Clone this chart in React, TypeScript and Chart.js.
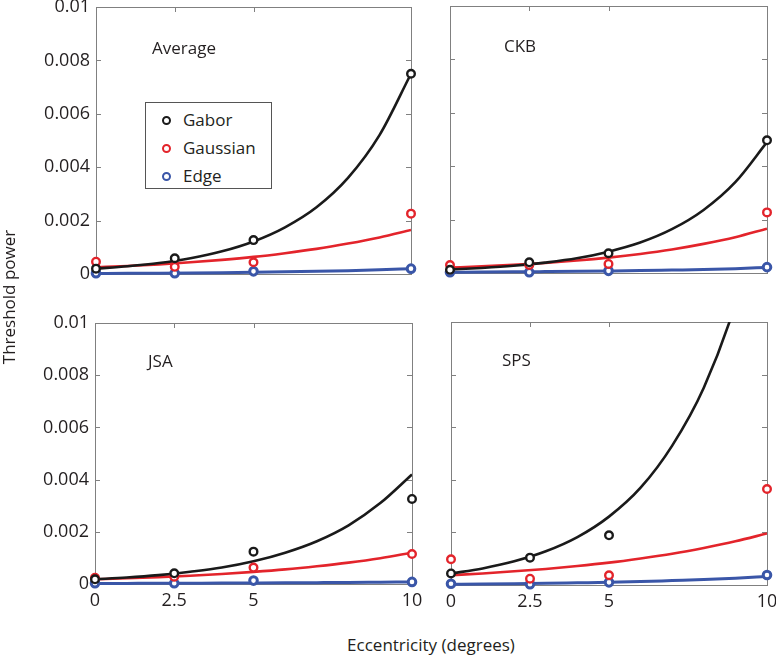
import React, { useEffect, useRef } from "react";
import { Chart, registerables } from "chart.js";
Chart.register(...registerables);

// ---------- data ----------
const eccentricity = [0, 2.5, 5, 10];
const fitEccentricity = [0, 1, 2, 3, 4, 5, 6, 7, 8, 9, 10];
const xTickValues = [0, 2.5, 5, 10];
const yTickValues = [0, 0.002, 0.004, 0.006, 0.008, 0.01];
const seriesNames = ["Gabor", "Gaussian", "Edge"];

// Average
const avgGabor = [0.0002, 0.00059, 0.00127, 0.0075];
const avgGaussian = [0.00046, 0.00027, 0.00044, 0.00226];
const avgEdge = [0.00003, 0.00003, 0.0001, 0.0002];
const avgGaborFit = [0.0002, 0.00029, 0.00041, 0.00059, 0.00085, 0.00122, 0.00175, 0.0025, 0.0036, 0.0052, 0.0075];
const avgGaussianFit = [0.00025, 0.0003, 0.00036, 0.00044, 0.00053, 0.00064, 0.00078, 0.00094, 0.00114, 0.00137, 0.00165];
const avgEdgeFit = [0.00002, 0.000025, 0.000032, 0.00004, 0.00005, 0.000063, 0.00008, 0.0001, 0.000126, 0.00016, 0.0002];

// CKB
const ckbGabor = [0.00012, 0.0004, 0.00074, 0.00497];
const ckbGaussian = [0.0003, 0.0003, 0.00034, 0.00227];
const ckbEdge = [0.00003, 0.00003, 0.00008, 0.00022];
const ckbGaborFit = [0.00013, 0.00019, 0.00027, 0.00039, 0.00055, 0.0008, 0.00114, 0.00164, 0.00236, 0.0034, 0.0049];
const ckbGaussianFit = [0.0002, 0.000247, 0.000305, 0.000377, 0.000466, 0.000576, 0.000712, 0.00088, 0.00109, 0.00134, 0.00166];
const ckbEdgeFit = [0.00003, 0.000036, 0.000043, 0.000052, 0.000062, 0.000075, 0.00009, 0.00011, 0.00013, 0.00016, 0.00021];

// JSA
const jsaGabor = [0.00018, 0.00041, 0.00124, 0.00326];
const jsaGaussian = [0.00024, 0.00028, 0.00063, 0.00115];
const jsaEdge = [0.00003, 0.00003, 0.00013, 0.00008];
const jsaGaborFit = [0.00018, 0.000247, 0.00034, 0.00047, 0.00063, 0.00087, 0.0012, 0.00164, 0.00225, 0.0031, 0.0042];
const jsaGaussianFit = [0.00018, 0.000218, 0.000263, 0.000318, 0.000385, 0.000465, 0.00056, 0.00068, 0.00082, 0.00099, 0.0012];
const jsaEdgeFit = [0.00002, 0.000023, 0.000026, 0.00003, 0.000034, 0.000039, 0.000045, 0.000052, 0.00006, 0.00007, 0.00008];

// SPS
const spsGabor = [0.00044, 0.00104, 0.00189, null];
const spsGaussian = [0.00098, 0.00024, 0.00037, 0.00365];
const spsEdge = [0.00005, 0.00003, 0.0001, 0.00038];
const spsGaborFit = [0.00044, 0.00063, 0.0009, 0.00128, 0.00182, 0.0026, 0.0037, 0.0053, 0.0075, 0.0107, 0.0153];
const spsGaussianFit = [0.00037, 0.00044, 0.00052, 0.00061, 0.00072, 0.00085, 0.00101, 0.00119, 0.00141, 0.00166, 0.00196];
const spsEdgeFit = [0.00003, 0.000039, 0.00005, 0.000064, 0.000082, 0.0001, 0.00013, 0.00017, 0.00021, 0.00026, 0.00032];

// ---------- style ----------
const COLORS = ["#1a1a1a", "#e3242b", "#3a56a8"];
const FONT = "'Open Sans', 'Noto Sans', sans-serif";
const TEXT = "#231f20";

const PAD_L = 100, PAD_T = 20, PAD_R = 20, PAD_B = 45;

const boxTicksPlugin = {
  id: "boxTicks",
  beforeDatasetsDraw(chart: any) {
    const { ctx, chartArea: a, scales } = chart;
    ctx.save();
    ctx.strokeStyle = "#808080";
    ctx.lineWidth = 1;
    ctx.strokeRect(Math.round(a.left) + 0.5, Math.round(a.top) + 0.5, Math.round(a.right - a.left), Math.round(a.bottom - a.top));
    const tl = 5;
    ctx.beginPath();
    scales.x.ticks.forEach((t: any) => {
      const px = Math.round(scales.x.getPixelForValue(t.value)) + 0.5;
      ctx.moveTo(px, a.bottom); ctx.lineTo(px, a.bottom - tl);
      ctx.moveTo(px, a.top); ctx.lineTo(px, a.top + tl);
    });
    scales.y.ticks.forEach((t: any) => {
      const py = Math.round(scales.y.getPixelForValue(t.value)) + 0.5;
      ctx.moveTo(a.left, py); ctx.lineTo(a.left + tl, py);
      ctx.moveTo(a.right, py); ctx.lineTo(a.right - tl, py);
    });
    ctx.stroke();
    ctx.restore();
  },
};

type PanelProps = {
  left: number; top: number; right: number; bottom: number;
  showY: boolean; showX: boolean;
  points: (number | null)[][];
  fits: number[][];
};

function Panel({ left, top, right, bottom, showY, showX, points, fits }: PanelProps) {
  const ref = useRef<HTMLCanvasElement>(null);
  const w = right - left, h = bottom - top;
  const cw = PAD_L + w + PAD_R, ch = PAD_T + h + PAD_B;
  useEffect(() => {
    const datasets: any[] = [];
    points.forEach((arr, i) => {
      datasets.push({
        label: seriesNames[i],
        data: eccentricity.map((x, k) => ({ x, y: arr[k] })),
        showLine: false,
        pointRadius: 3.8,
        pointBorderWidth: i === 2 ? 3 : 2.4,
        pointBorderColor: COLORS[i],
        pointBackgroundColor: "#ffffff",
        clip: false,
      });
    });
    fits.forEach((arr, i) => {
      datasets.push({
        label: seriesNames[i] + " fit",
        data: fitEccentricity.map((x, k) => ({ x, y: arr[k] })),
        showLine: true,
        borderColor: COLORS[i],
        borderWidth: i === 2 ? 3 : 2.6,
        pointRadius: 0,
        cubicInterpolationMode: "monotone",
        clip: { left: 0, top: 0, right: 0, bottom: 4 },
      });
    });
    const chart = new Chart(ref.current!, {
      type: "scatter",
      data: { datasets },
      plugins: [boxTicksPlugin],
      options: {
        animation: false,
        responsive: false,
        devicePixelRatio: 1,
        layout: { padding: { left: 0, top: PAD_T, right: PAD_R, bottom: 0 } },
        plugins: { legend: { display: false }, tooltip: { enabled: false } },
        scales: {
          x: {
            type: "linear",
            min: 0, max: 10,
            grid: { display: false, drawTicks: false },
            border: { display: false },
            afterBuildTicks: (s: any) => { s.ticks = xTickValues.map((v) => ({ value: v })); },
            afterFit: (s: any) => { s.height = PAD_B; s.paddingLeft = 0; s.paddingRight = 0; },
            ticks: {
              display: showX,
              padding: 6,
              maxRotation: 0,
              color: TEXT,
              font: { family: FONT, size: 18 },
              callback: (v: any) => String(v),
            },
          },
          y: {
            type: "linear",
            min: 0, max: 0.01,
            grid: { display: false, drawTicks: false },
            border: { display: false },
            afterBuildTicks: (s: any) => { s.ticks = yTickValues.map((v) => ({ value: v })); },
            afterFit: (s: any) => { s.width = PAD_L; s.paddingTop = 0; s.paddingBottom = 0; },
            ticks: {
              display: showY,
              padding: 6,
              color: TEXT,
              font: { family: FONT, size: 18 },
              callback: (v: any) => (v === 0 ? "0" : v >= 0.0099 ? "0.01" : Number(v).toFixed(3)),
            },
          },
        },
      } as any,
    });
    return () => chart.destroy();
  }, []);
  return (
    <canvas
      ref={ref}
      width={cw}
      height={ch}
      style={{ position: "absolute", left: left - PAD_L, top: top - PAD_T, width: cw, height: ch }}
    />
  );
}

const labelStyle = (x: number, y: number): React.CSSProperties => ({
  position: "absolute", left: x, top: y, fontFamily: FONT, fontSize: 17, color: TEXT, lineHeight: "20px", whiteSpace: "nowrap",
});

export default function App() {
  return (
    <div style={{ position: "absolute", left: 0, top: 0, width: 776, height: 657, background: "#fff", overflow: "hidden" }}>
      <Panel left={96} top={7} right={411} bottom={274} showY={true} showX={false}
        points={[avgGabor, avgGaussian, avgEdge]} fits={[avgGaborFit, avgGaussianFit, avgEdgeFit]} />
      <Panel left={450} top={6} right={767} bottom={273} showY={false} showX={false}
        points={[ckbGabor, ckbGaussian, ckbEdge]} fits={[ckbGaborFit, ckbGaussianFit, ckbEdgeFit]} />
      <Panel left={95} top={323} right={412} bottom={584} showY={true} showX={true}
        points={[jsaGabor, jsaGaussian, jsaEdge]} fits={[jsaGaborFit, jsaGaussianFit, jsaEdgeFit]} />
      <Panel left={451} top={322} right={767} bottom={585} showY={false} showX={true}
        points={[spsGabor, spsGaussian, spsEdge]} fits={[spsGaborFit, spsGaussianFit, spsEdgeFit]} />

      <div style={labelStyle(152, 38)}>Average</div>
      <div style={labelStyle(504, 36)}>CKB</div>
      <div style={labelStyle(148, 351)}>JSA</div>
      <div style={labelStyle(502, 350)}>SPS</div>

      <div style={{ position: "absolute", left: 145, top: 102, width: 125, height: 85, border: "1px solid #555", background: "#fff" }}>
        {seriesNames.map((n, i) => (
          <div key={n} style={{ position: "absolute", left: 0, top: [6, 34, 62][i], height: 22, width: 125 }}>
            <div style={{ position: "absolute", left: 16, top: 7, width: 5, height: 5, border: `2.2px solid ${COLORS[i]}`, borderRadius: "50%" }} />
            <div style={{ position: "absolute", left: 37, top: 0, fontFamily: FONT, fontSize: 17, color: TEXT, lineHeight: "22px" }}>{n}</div>
          </div>
        ))}
      </div>

      <div style={{ position: "absolute", left: 9 - 100, top: 297 - 11, width: 200, height: 22, lineHeight: "22px", textAlign: "center", transform: "rotate(-90deg)", fontFamily: FONT, fontSize: 17, color: TEXT }}>
        Threshold power
      </div>
      <div style={{ position: "absolute", left: 431 - 150, top: 634, width: 300, height: 22, lineHeight: "22px", textAlign: "center", fontFamily: FONT, fontSize: 17, color: TEXT }}>
        Eccentricity (degrees)
      </div>
    </div>
  );
}
